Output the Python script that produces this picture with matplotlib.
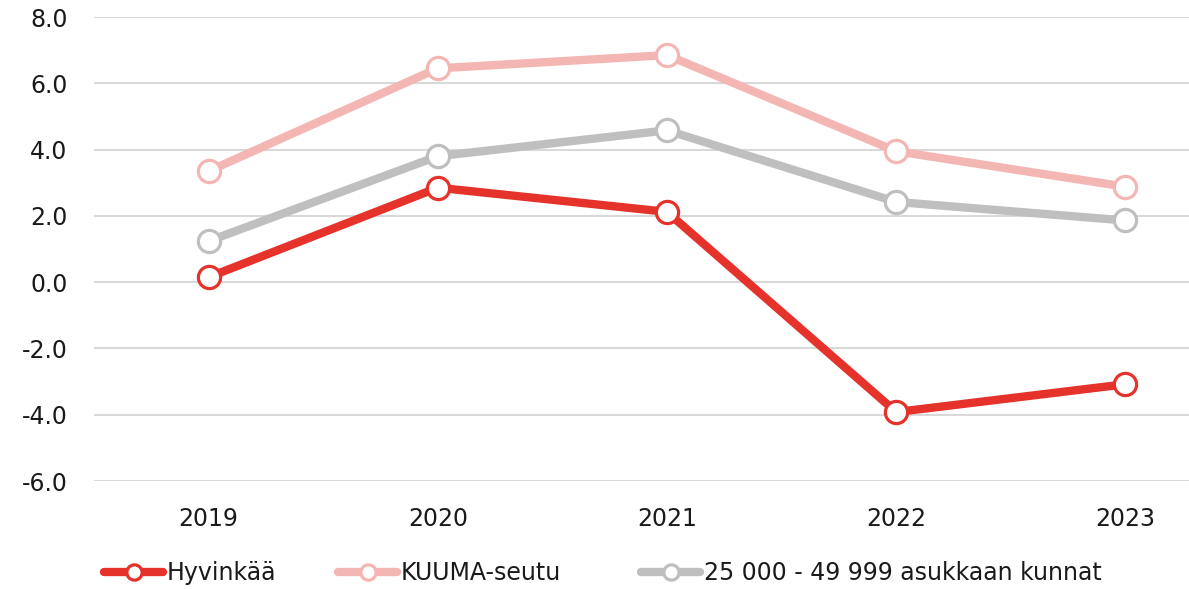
import matplotlib.pyplot as plt
from matplotlib.lines import Line2D

years = ["2019", "2020", "2021", "2022", "2023"]
hyvinkaa = [0.15, 2.85, 2.12, -3.92, -3.08]
kuuma = [3.35, 6.45, 6.85, 3.95, 2.88]
kunnat = [1.24, 3.80, 4.58, 2.42, 1.86]

plt.rcParams['font.family'] = ['DejaVu Sans']

fig = plt.figure(figsize=(11.89, 5.89), dpi=100)
ax = fig.add_axes([94 / 1189, 1 - 481 / 589, (1240 - 94) / 1189, (481 - 17) / 589])

x = range(len(years))
series = [
    (kunnat, "#BFBFBF", "25 000 - 49 999 asukkaan kunnat"),
    (kuuma, "#F4B6B3", "KUUMA-seutu"),
    (hyvinkaa, "#E5322B", "Hyvinkää"),
]
for vals, col, name in series:
    ax.plot(x, vals, color=col, lw=6, marker="o", ms=16,
            mfc="white", mec=col, mew=2.3, label=name,
            solid_capstyle="round", clip_on=False)

ax.set_xlim(-0.5, 4.5)
ax.set_ylim(-6, 8)
ax.set_yticks(range(-6, 9, 2))
ax.set_yticklabels([f"{v:.1f}" for v in range(-6, 9, 2)])
ax.set_xticks(list(x))
ax.set_xticklabels(years)
ax.grid(axis="y", color="#D9D9D9", lw=1.5)
ax.set_axisbelow(True)
for s in ax.spines.values():
    s.set_visible(False)
ax.tick_params(length=0, labelsize=17, colors="#1a1a1a")
ax.tick_params(axis="y", pad=19)
ax.tick_params(axis="x", pad=19)

# legend entries placed one by one, like the original
legend_items = [("Hyvinkää", "#E5322B", 104), ("KUUMA-seutu", "#F4B6B3", 338),
                ("25 000 - 49 999 asukkaan kunnat", "#BFBFBF", 641)]
for name, col, px in legend_items:
    h = Line2D([], [], color=col, lw=6, marker="o", ms=11, mfc="white",
               mec=col, mew=2.3, solid_capstyle="round")
    leg = fig.legend([h], [name], loc="center left",
                     bbox_to_anchor=(px / 1189, 1 - 573 / 589), frameon=False,
                     fontsize=17, handlelength=2.5, handletextpad=0.15,
                     borderaxespad=0, borderpad=0)
    leg.get_texts()[0].set_color("#1a1a1a")

fig.savefig("out.png", dpi=100)
